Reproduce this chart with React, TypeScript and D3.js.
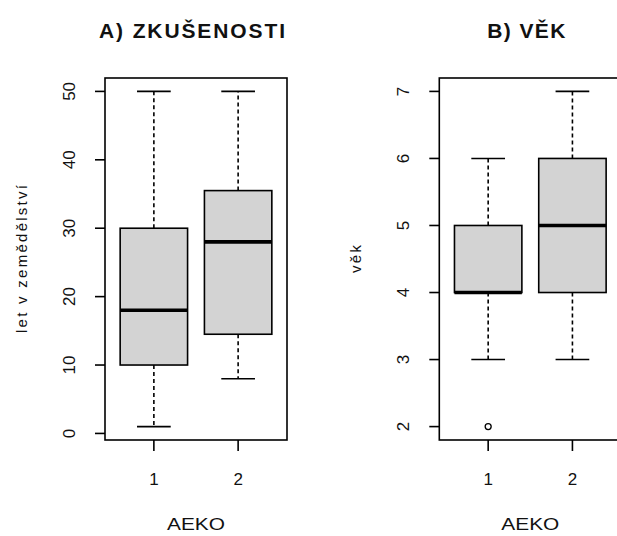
import React from "react";
import * as d3 from "d3";

const categories = ["1", "2"];

const expTitle = "A) ZKUŠENOSTI";
const expYLabel = "let v zemědělství";
const expMin = [1, 8];
const expQ1 = [10, 14.5];
const expMedian = [18, 28];
const expQ3 = [30, 35.5];
const expMax = [50, 50];
const expOutliers: number[][] = [[], []];
const expTicks = [0, 10, 20, 30, 40, 50];

const ageTitle = "B) VĚK";
const ageYLabel = "věk";
const ageMin = [3, 3];
const ageQ1 = [4, 4];
const ageMedian = [4, 5];
const ageQ3 = [5, 6];
const ageMax = [6, 7];
const ageOutliers: number[][] = [[2], []];
const ageTicks = [2, 3, 4, 5, 6, 7];

const xLabel = "AEKO";

const W = 617;
const H = 536;
const TOP = 78;
const BOTTOM = 440;
const PANEL_W = 182;
const FONT = "Liberation Sans, Arial, sans-serif";

type PanelProps = {
  left: number;
  title: string;
  titleLen: number;
  yLabel: string;
  yLabelLen: number;
  mins: number[];
  q1: number[];
  med: number[];
  q3: number[];
  maxs: number[];
  outliers: number[][];
  ticks: number[];
};

function Panel(p: PanelProps) {
  const right = p.left + PANEL_W;
  const all = [...p.mins, ...p.maxs, ...p.outliers.flat()];
  const lo = d3.min(all) as number;
  const hi = d3.max(all) as number;
  const pad = (hi - lo) * 0.04;
  const y = d3.scaleLinear().domain([lo - pad, hi + pad]).range([BOTTOM, TOP]);
  const x = d3
    .scaleLinear()
    .domain([0.5 - 0.08, categories.length + 0.5 + 0.08])
    .range([p.left, right]);
  const bw = x(1.4) - x(1);
  const cx = (p.left + right) / 2;
  return (
    <g>
      <text
        x={cx - 4}
        y={38}
        textAnchor="middle"
        fontFamily={FONT}
        fontWeight="bold"
        fontSize={21}
        textLength={p.titleLen}
        lengthAdjust="spacing"
        fill="#111"
      >
        {p.title}
      </text>
      {categories.map((c, i) => {
        const xc = x(i + 1);
        return (
          <g key={c}>
            <line x1={xc} x2={xc} y1={y(p.q3[i])} y2={y(p.maxs[i])} stroke="#000" strokeWidth={1.6} strokeDasharray="4,3" />
            <line x1={xc} x2={xc} y1={y(p.q1[i])} y2={y(p.mins[i])} stroke="#000" strokeWidth={1.6} strokeDasharray="4,3" />
            <line x1={xc - bw / 2} x2={xc + bw / 2} y1={y(p.maxs[i])} y2={y(p.maxs[i])} stroke="#000" strokeWidth={1.6} />
            <line x1={xc - bw / 2} x2={xc + bw / 2} y1={y(p.mins[i])} y2={y(p.mins[i])} stroke="#000" strokeWidth={1.6} />
            <rect
              x={xc - bw}
              width={2 * bw}
              y={y(p.q3[i])}
              height={y(p.q1[i]) - y(p.q3[i])}
              fill="#d3d3d3"
              stroke="#000"
              strokeWidth={1.6}
            />
            <line x1={xc - bw} x2={xc + bw} y1={y(p.med[i])} y2={y(p.med[i])} stroke="#000" strokeWidth={3.6} />
            {p.outliers[i].map((o, k) => (
              <circle key={k} cx={xc} cy={y(o)} r={3} fill="none" stroke="#000" strokeWidth={1.3} />
            ))}
            <line x1={xc} x2={xc} y1={BOTTOM} y2={BOTTOM + 11} stroke="#000" strokeWidth={1.6} />
            <text x={xc} y={485} textAnchor="middle" fontFamily={FONT} fontSize={17} fill="#111">
              {c}
            </text>
          </g>
        );
      })}
      <rect x={p.left} y={TOP} width={PANEL_W} height={BOTTOM - TOP} fill="none" stroke="#000" strokeWidth={1.6} />
      {p.ticks.map((t) => (
        <g key={t}>
          <line x1={p.left - 10} x2={p.left} y1={y(t)} y2={y(t)} stroke="#000" strokeWidth={1.6} />
          <text
            transform={`translate(${p.left - 30},${y(t)}) rotate(-90)`}
            textAnchor="middle"
            fontFamily={FONT}
            fontSize={17}
            fill="#111"
          >
            {t}
          </text>
        </g>
      ))}
      <text
        transform={`translate(${p.left - 78},${(TOP + BOTTOM) / 2}) rotate(-90)`}
        textAnchor="middle"
        fontFamily={FONT}
        fontSize={15}
        textLength={p.yLabelLen}
        lengthAdjust="spacing"
        fill="#111"
      >
        {p.yLabel}
      </text>
      <text
        x={cx}
        y={530}
        textAnchor="middle"
        fontFamily={FONT}
        fontSize={17}
        textLength={58}
        lengthAdjust="spacingAndGlyphs"
        fill="#111"
      >
        {xLabel}
      </text>
    </g>
  );
}

export default function App() {
  return (
    <svg
      width={W}
      height={H}
      viewBox={`0 0 ${W} ${H}`}
      style={{ position: "absolute", left: 0, top: 0, background: "#fff" }}
    >
      <rect width={W} height={H} fill="#fff" />
      <Panel
        left={105}
        title={expTitle}
        titleLen={186}
        yLabel={expYLabel}
        yLabelLen={148}
        mins={expMin}
        q1={expQ1}
        med={expMedian}
        q3={expQ3}
        maxs={expMax}
        outliers={expOutliers}
        ticks={expTicks}
      />
      <Panel
        left={439.3}
        title={ageTitle}
        titleLen={78}
        yLabel={ageYLabel}
        yLabelLen={28}
        mins={ageMin}
        q1={ageQ1}
        med={ageMedian}
        q3={ageQ3}
        maxs={ageMax}
        outliers={ageOutliers}
        ticks={ageTicks}
      />
    </svg>
  );
}
